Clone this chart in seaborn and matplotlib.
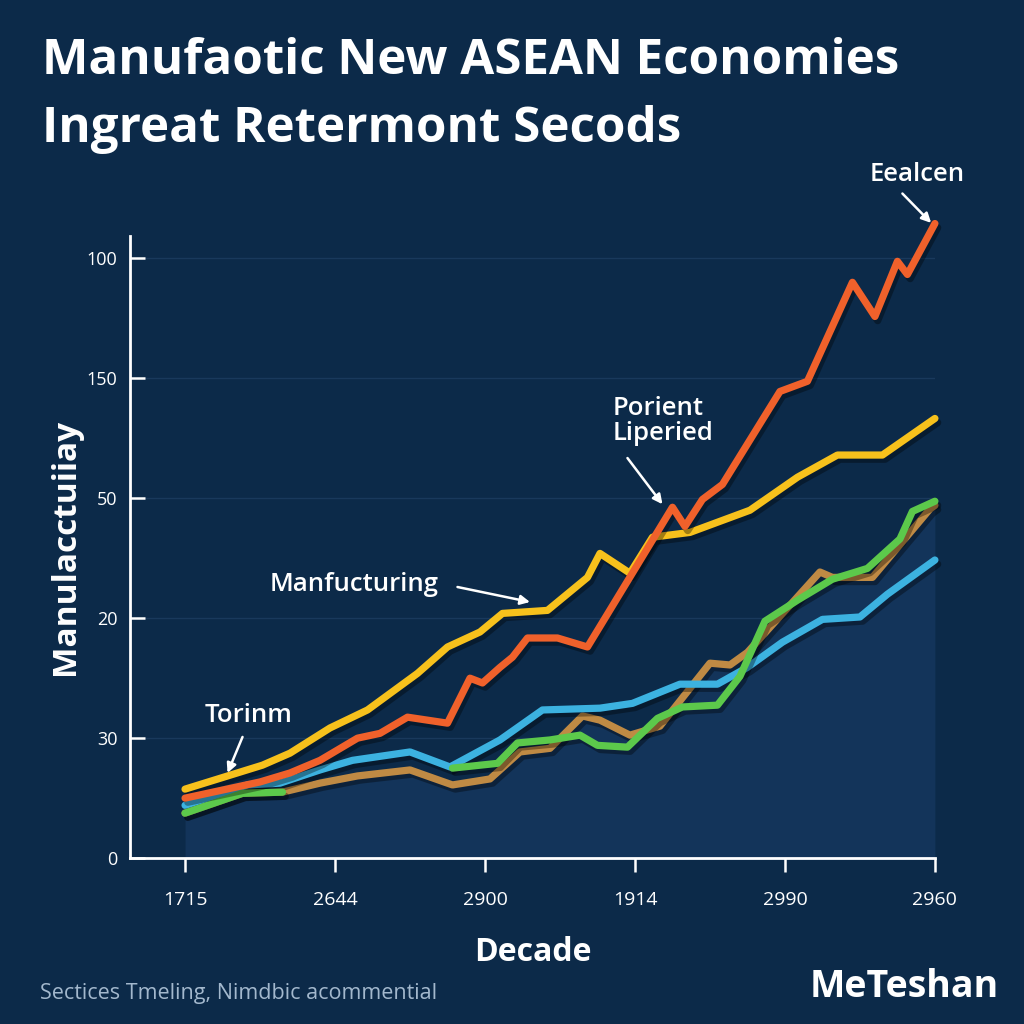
import numpy as np
import pandas as pd
import seaborn as sns
import matplotlib.pyplot as plt
import matplotlib.patheffects as pe

# tick labels as printed on the chart
x_ticks = [0, 6, 12, 18, 24, 30]
x_labels = ['1715', '2644', '2900', '1914', '2990', '2960']
y_ticks = [0, 20, 40, 60, 80, 100]
y_labels = ['0', '30', '20', '50', '150', '100']

# series values
red_x = [0, 3.0, 4.2, 5.4, 6.9, 7.8, 8.9, 10.5, 11.4, 11.9, 12.6, 13.1, 13.7, 14.9, 16.1,
         19.5, 20.0, 20.7, 21.5, 23.8, 24.9, 26.7, 27.6, 28.5, 28.9, 30.0]
red_y = [10.0, 12.7, 14.2, 16.3, 20.0, 20.8, 23.5, 22.5, 30.0, 29.2, 31.8, 33.5, 36.7, 36.7, 35.2,
         58.5, 55.3, 59.8, 62.3, 77.8, 79.5, 96.0, 90.3, 99.5, 97.3, 105.8]

yellow_x = [0, 3.1, 4.2, 5.8, 7.3, 9.3, 10.5, 11.8, 12.7, 14.5, 16.1, 16.6, 17.8, 18.7, 20.2,
            22.6, 24.5, 26.1, 27.9, 30.0]
yellow_y = [11.5, 15.5, 17.5, 21.7, 24.7, 30.8, 35.2, 37.7, 40.8, 41.3, 46.8, 50.8, 47.5, 53.5, 54.3,
            58.0, 63.5, 67.2, 67.2, 73.3]

blue_x = [0, 2.5, 3.8, 5.4, 6.7, 9.0, 10.6, 12.6, 14.3, 16.6, 17.9, 19.8, 21.3, 22.5, 23.9,
          25.5, 27.0, 28.1, 30.0]
blue_y = [8.8, 12.2, 12.5, 14.7, 16.3, 17.7, 15.2, 19.7, 24.7, 25.0, 25.8, 29.0, 29.0, 31.8, 36.0,
          39.8, 40.2, 44.0, 49.7]

green_x = [0, 2.3, 3.9, 7.0, 10.7, 12.5, 13.3, 14.6, 15.8, 16.5, 17.7, 18.9, 19.9, 21.3, 22.2,
           23.2, 24.5, 25.9, 27.3, 28.6, 29.1, 30.0]
green_y = [7.5, 10.8, 11.0, np.nan, 15.0, 15.8, 19.2, 19.7, 20.5, 18.8, 18.5, 23.3, 25.2, 25.5, 30.3,
           39.5, 43.0, 46.5, 48.3, 53.2, 57.8, 59.5]

brown_x = [0, 2.3, 3.9, 5.4, 6.9, 9.0, 10.7, 12.2, 13.4, 14.6, 15.9, 16.6, 17.8, 19.0, 21.0,
           21.8, 22.5, 25.4, 25.9, 27.5, 29.8, 30.0]
brown_y = [7.5, 10.8, 11.0, 12.5, 13.7, 14.7, 12.2, 13.2, 17.7, 18.3, 23.7, 23.0, 20.5, 22.0, 32.5,
           32.2, 34.3, 47.7, 46.8, 46.8, 58.2, 58.8]

bg = '#0c2a49'
narrow = ['Liberation Sans Narrow', 'Open Sans', 'DejaVu Sans']

sns.set_theme(style='white')
plt.rcParams['font.family'] = ['Open Sans', 'DejaVu Sans']

fig = plt.figure(figsize=(10.24, 10.24), dpi=100, facecolor=bg)
ax = fig.add_axes([0.127, 0.162, 0.786, 0.608])
ax.set_facecolor(bg)

# light area under the lower lines
ax.fill_between(brown_x, brown_y, 0, color='#13345a', lw=0, zorder=1)

shadow = [pe.SimpleLineShadow(offset=(2, -3), shadow_color='black', alpha=0.35), pe.Normal()]


def draw(xs, ys, color, z):
    df = pd.DataFrame({'x': xs, 'y': ys})
    # split at gaps so the line breaks there
    df['seg'] = df['y'].isna().cumsum()
    df = df.dropna()
    for _, part in df.groupby('seg'):
        sns.lineplot(data=part, x='x', y='y', color=color, lw=5.2, ax=ax,
                     estimator=None, sort=False, zorder=z)
        line = ax.lines[-1]
        line.set_solid_capstyle('round')
        line.set_solid_joinstyle('round')
        line.set_path_effects(shadow)
        line.set_clip_on(False)


draw(brown_x, brown_y, '#bf8a44', 3)
draw(blue_x, blue_y, '#3cb2e0', 4)
draw(green_x, green_y, '#5cc94b', 5)
draw(yellow_x, yellow_y, '#f7c11c', 6)
draw(red_x, red_y, '#f0612b', 7)

ax.set_xlim(-2.2, 30)
ax.set_ylim(0, 103.8)
ax.set_xticks(x_ticks)
ax.set_xticklabels(x_labels, color='white', fontsize=14, family=narrow)
ax.set_yticks(y_ticks)
ax.set_yticklabels(y_labels, color='white', fontsize=13)
ax.tick_params(axis='y', direction='in', length=11, width=1.8, color='white', pad=9, left=True)
ax.tick_params(axis='x', direction='out', length=10, width=1.8, color='white', pad=14, bottom=True)
ax.yaxis.grid(True, color='#19395c', lw=1)
ax.set_axisbelow(True)

for side in ['top', 'right']:
    ax.spines[side].set_visible(False)
for side in ['left', 'bottom']:
    ax.spines[side].set_color('white')
    ax.spines[side].set_linewidth(2)

ax.set_xlabel('Decade', color='white', fontsize=23, fontweight='bold', family=narrow)
ax.xaxis.set_label_coords(0.5, -0.125)
ax.set_ylabel('Manulacctuiiay', color='white', fontsize=24, fontweight='bold', family=narrow)
ax.yaxis.set_label_coords(-0.06, 0.5)

# annotations
arrow = dict(arrowstyle='-|>', color='white', lw=1.8, mutation_scale=14, shrinkA=0, shrinkB=0)
ax.text(29.3, 114.0, 'Eealcen', color='white', fontsize=18.5, fontweight='semibold',
        ha='center', va='center', clip_on=False)
ax.annotate('', xy=(29.85, 105.9), xytext=(28.7, 110.8), arrowprops=arrow, annotation_clip=False)

ax.text(17.1, 72.8, 'Porient\nLiperied', color='white', fontsize=18.5, fontweight='semibold',
        ha='left', va='center', linespacing=1.0)
ax.annotate('', xy=(19.1, 59.0), xytext=(17.7, 66.7), arrowprops=arrow)

ax.text(3.4, 45.7, 'Manfucturing', color='white', fontsize=18.5, fontweight='semibold',
        ha='left', va='center')
ax.annotate('', xy=(13.8, 42.7), xytext=(10.9, 45.2), arrowprops=arrow)

ax.text(0.8, 23.7, 'Torinm', color='white', fontsize=18.5, fontweight='semibold',
        ha='left', va='center')
ax.annotate('', xy=(1.7, 14.2), xytext=(2.3, 20.2), arrowprops=arrow)

# title and footer
fig.text(42 / 1024, 1 - 74 / 1024, 'Manufaotic New ASEAN Economies', color='white',
         fontsize=35.5, fontweight='bold', family=narrow, va='baseline')
fig.text(42 / 1024, 1 - 142 / 1024, 'Ingreat Retermont Secods', color='white',
         fontsize=35.5, fontweight='bold', family=narrow, va='baseline')
fig.text(40 / 1024, 1 - 993 / 1024, 'Sectices Tmeling, Nimdbic acommential', color='#a3b8cd',
         fontsize=15.5, family=narrow, va='center')
fig.text(999 / 1024, 1 - 987 / 1024, 'MeTeshan', color='white', fontsize=27,
         fontweight='bold', family=narrow, ha='right', va='center')

fig.savefig('out.png', dpi=100, facecolor=bg)
